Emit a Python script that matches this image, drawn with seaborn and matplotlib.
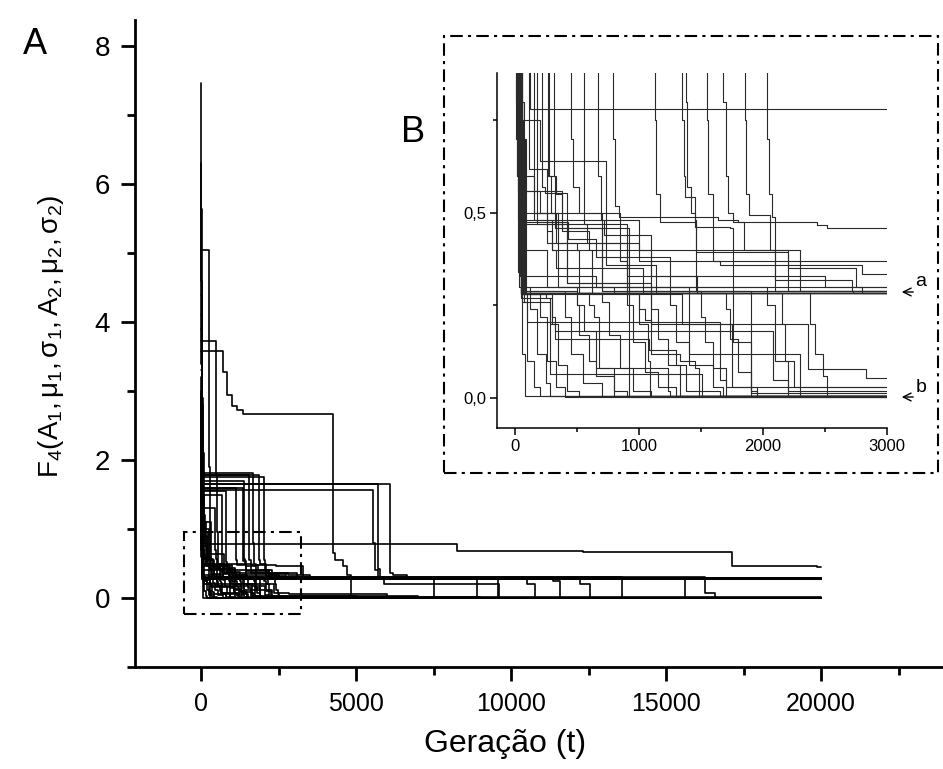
import numpy as np
import pandas as pd
import matplotlib
matplotlib.use("Agg")
import matplotlib.pyplot as plt
import matplotlib.patches as mpatches
from matplotlib.ticker import FixedLocator
import seaborn as sns

# ---------------- data: best-fitness step curves of each run ----------------
T_END = 20000
r01_t = [0, 12, 40, 90, 180, 420, 1100];            r01_f = [7.46, 4.6, 2.1, 0.9, 0.47, 0.31, 0.283]
r02_t = [0, 15, 45, 110, 260, 700, 1900];           r02_f = [6.3, 3.4, 1.5, 0.62, 0.42, 0.29, 0.006]
r03_t = [0, 18, 60, 150, 350, 800];                 r03_f = [5.64, 2.9, 1.1, 0.50, 0.30, 0.283]
r04_t = [0, 260, 275, 320, 700, 1500];              r04_f = [5.04, 1.9, 0.60, 0.46, 0.29, 0.283]
r05_t = [0, 480, 500, 560, 900, 1400, 2300];        r05_f = [3.72, 1.80, 0.95, 0.47, 0.30, 0.12, 0.005]
r06_t = [0, 700, 840, 1000, 1150, 1350, 4260, 4330, 4580, 4700, 4850]
r06_f = [3.58, 3.28, 2.95, 2.78, 2.72, 2.67, 0.65, 0.55, 0.46, 0.33, 0.005]
r07_t = [0, 30, 6100, 6180, 6640, 6800];            r07_f = [4.4, 1.65, 0.36, 0.33, 0.29, 0.283]
r08_t = [0, 40, 5700, 5760, 5900, 7500];            r08_f = [3.9, 1.65, 0.42, 0.30, 0.29, 0.005]
r09_t = [0, 60, 5550, 5600, 5700, 5900, 9600];      r09_f = [2.5, 1.57, 0.80, 0.40, 0.30, 0.20, 0.005]
r10_t = [0, 50, 1675, 1700, 1720, 1760, 2433, 2513, 3300, 17200]
r10_f = [2.8, 1.81, 0.80, 0.60, 0.50, 0.476, 0.467, 0.459, 0.29, 0.28]
r11_t = [0, 45, 1546, 1560, 1600, 1640, 1800, 1850, 2100, 15610]
r11_f = [3.3, 1.79, 0.75, 0.55, 0.49, 0.481, 0.476, 0.40, 0.29, 0.005]
r12_t = [0, 35, 1855, 1865, 1890, 2030, 2060, 2200, 2750, 13580]
r12_f = [2.9, 1.78, 0.75, 0.55, 0.495, 0.495, 0.40, 0.35, 0.30, 0.005]
r13_t = [0, 30, 2030, 2045, 2070, 2100, 2720, 12230, 12550]
r13_f = [2.4, 1.75, 0.70, 0.55, 0.49, 0.32, 0.29, 0.20, 0.005]
r14_t = [0, 40, 1344, 1360, 1370, 1450, 1460, 2727, 11350, 11580]
r14_f = [2.2, 1.59, 0.75, 0.60, 0.544, 0.481, 0.29, 0.285, 0.25, 0.005]
r15_t = [0, 25, 121, 8260, 12320, 17130, 19870];    r15_f = [4.1, 1.2, 0.781, 0.68, 0.67, 0.46, 0.45]
r16_t = [0, 30, 1378, 1390, 1420, 1450, 1734, 1760, 1900]
r16_f = [2.6, 1.7, 0.80, 0.57, 0.50, 0.463, 0.459, 0.15, 0.013]
r17_t = [0, 30, 1129, 1140, 1170, 1440, 1460, 1800, 2200, 10500, 10770]
r17_f = [2.3, 1.6, 0.75, 0.55, 0.476, 0.476, 0.395, 0.395, 0.29, 0.20, 0.005]
r18_t = [0, 40, 793, 810, 840, 1600, 1650, 2800, 3500, 9580]
r18_f = [2.1, 1.55, 0.70, 0.52, 0.49, 0.37, 0.36, 0.335, 0.29, 0.005]
r19_t = [0, 35, 672, 690, 720, 1050, 1100, 1700, 1750, 5000]
r19_f = [2.0, 1.5, 0.60, 0.48, 0.44, 0.44, 0.20, 0.20, 0.031, 0.005]
r20_t = [0, 25, 449, 470, 520, 700, 1000, 3100, 8900]
r20_f = [1.9, 1.3, 0.70, 0.57, 0.50, 0.42, 0.37, 0.29, 0.005]
r21_t = [0, 20, 315, 330, 380, 600, 620, 1300, 1350, 2330, 2360, 2800, 2830, 6000]
r21_f = [1.7, 1.1, 0.60, 0.55, 0.45, 0.40, 0.28, 0.28, 0.20, 0.20, 0.079, 0.079, 0.054, 0.005]
r22_t = [0, 22, 270, 290, 330, 500, 520];           r22_f = [1.6, 1.0, 0.60, 0.50, 0.42, 0.40, 0.283]
r23_t = [0, 18, 215, 240, 400, 420, 900, 920];      r23_f = [1.5, 0.95, 0.57, 0.553, 0.553, 0.31, 0.31, 0.006]
r24_t = [0, 15, 60, 200, 713, 730, 1000, 1100, 2500, 16260, 16580]
r24_f = [2.0, 1.2, 0.75, 0.639, 0.639, 0.48, 0.40, 0.33, 0.30, 0.08, 0.005]
r25_t = [0, 10, 30, 50, 60, 80];                    r25_f = [3.0, 1.2, 0.40, 0.28, 0.12, 0.005]
r26_t = [0, 12, 40, 60, 100, 150, 200];             r26_f = [2.5, 1.0, 0.35, 0.26, 0.10, 0.03, 0.005]
r27_t = [0, 15, 50, 120, 180, 250, 280];            r27_f = [2.2, 0.9, 0.30, 0.24, 0.12, 0.04, 0.005]
r28_t = [0, 20, 60, 200, 260, 330, 400];            r28_f = [2.0, 0.8, 0.28, 0.22, 0.10, 0.03, 0.004]
r29_t = [0, 10, 45, 300, 350, 420, 520];            r29_f = [1.9, 0.7, 0.27, 0.20, 0.09, 0.02, 0.005]
r30_t = [0, 14, 55, 100, 1600, 1650, 1700];         r30_f = [2.3, 0.8, 0.28, 0.206, 0.206, 0.05, 0.005]
r31_t = [0, 16, 70, 280, 1490, 1510];               r31_f = [1.8, 0.6, 0.26, 0.065, 0.065, 0.006]
r32_t = [0, 20, 80, 400, 450, 550, 700];            r32_f = [1.7, 0.7, 0.29, 0.22, 0.12, 0.04, 0.005]
r33_t = [0, 12, 60, 500, 560, 650, 800, 900];       r33_f = [2.4, 0.9, 0.29, 0.25, 0.18, 0.08, 0.02, 0.004]
r34_t = [0, 18, 65, 700, 760, 850, 950, 1100];      r34_f = [2.1, 0.75, 0.28, 0.26, 0.17, 0.08, 0.02, 0.005]
r35_t = [0, 20, 50, 900, 950, 1050, 1150, 1300];    r35_f = [1.6, 0.6, 0.285, 0.25, 0.15, 0.07, 0.03, 0.006]
r36_t = [0, 25, 70, 1100, 1150, 1230, 1380, 1650];  r36_f = [1.9, 0.7, 0.283, 0.24, 0.16, 0.09, 0.02, 0.005]
r37_t = [0, 22, 75, 1250, 1300, 1400, 1600, 1680];  r37_f = [2.2, 0.8, 0.283, 0.25, 0.15, 0.09, 0.03, 0.004]
r38_t = [0, 28, 90, 1500, 1530, 1600, 1700, 1950];  r38_f = [1.8, 0.7, 0.285, 0.22, 0.15, 0.08, 0.03, 0.005]
r39_t = [0, 14, 60, 1700, 1730, 1800, 1900, 1950];  r39_f = [2.6, 0.9, 0.284, 0.24, 0.16, 0.07, 0.02, 0.006]
r40_t = [0, 16, 55, 2150, 2180, 2250, 2400, 7000];  r40_f = [2.4, 0.8, 0.283, 0.20, 0.10, 0.031, 0.031, 0.005]
r41_t = [0, 24, 80, 1000, 1050, 1100, 1300, 1330];  r41_f = [1.7, 0.6, 0.285, 0.24, 0.21, 0.12, 0.09, 0.006]
r42_t = [0, 10, 35, 2000, 2030, 2100, 2200, 9000];  r42_f = [3.2, 1.3, 0.30, 0.30, 0.25, 0.10, 0.02, 0.005]
r43_t = [0, 13, 40, 600, 650, 2700, 2800];          r43_f = [2.7, 1.0, 0.33, 0.33, 0.30, 0.30, 0.283]
r44_t = [0, 8, 25, 250, 300, 330, 1000, 1030];      r44_f = [2.0, 0.9, 0.48, 0.48, 0.40, 0.35, 0.35, 0.283]
r45_t = [0, 10, 30, 400, 430, 600, 650, 1200, 1250]
r45_f = [1.8, 0.8, 0.476, 0.476, 0.43, 0.43, 0.38, 0.38, 0.284]
r46_t = [0, 12, 35, 550, 580, 880, 900, 1470];      r46_f = [2.2, 0.9, 0.47, 0.47, 0.42, 0.42, 0.33, 0.285]
r47_t = [0, 9, 28, 150, 200, 260, 300, 2250, 2300]
r47_f = [1.6, 0.9, 0.56, 0.56, 0.50, 0.45, 0.40, 0.40, 0.29]
r48_t = [0, 14, 40, 350, 380, 880, 920];            r48_f = [1.7, 0.8, 0.56, 0.56, 0.46, 0.46, 0.29]
r49_t = [0, 11, 33, 120, 150, 700, 730, 1110, 1140]
r49_f = [2.4, 1.0, 0.60, 0.60, 0.48, 0.48, 0.36, 0.36, 0.283]
r50_t = [0, 13, 38, 230, 260, 500, 520, 600, 650, 800]
r50_f = [1.9, 0.8, 0.40, 0.40, 0.30, 0.25, 0.17, 0.10, 0.06, 0.006]
r51_t = [0, 17, 45, 300, 320, 1050, 1080, 1300, 1330, 1450, 1480]
r51_f = [2.0, 0.8, 0.28, 0.22, 0.16, 0.16, 0.13, 0.12, 0.10, 0.08, 0.006]
r52_t = [0, 19, 50, 600, 640, 680, 1200, 1230, 1250]
r52_f = [1.8, 0.7, 0.283, 0.25, 0.22, 0.08, 0.08, 0.02, 0.005]
r53_t = [0, 21, 70, 250, 280, 320, 2050, 2080, 2200]
r53_f = [1.5, 0.6, 0.28, 0.27, 0.20, 0.18, 0.18, 0.05, 0.005]
r54_t = [0, 9, 26, 50, 2350, 2380, 2420, 2480, 2520]
r54_f = [2.9, 1.0, 0.34, 0.283, 0.283, 0.20, 0.12, 0.06, 0.005]
r55_t = [0, 15, 42, 820, 850, 900, 1000, 1070, 1090]
r55_f = [2.1, 0.8, 0.50, 0.50, 0.37, 0.28, 0.20, 0.10, 0.005]

runs = [
    (r01_t, r01_f), (r02_t, r02_f), (r03_t, r03_f), (r04_t, r04_f), (r05_t, r05_f),
    (r06_t, r06_f), (r07_t, r07_f), (r08_t, r08_f), (r09_t, r09_f), (r10_t, r10_f),
    (r11_t, r11_f), (r12_t, r12_f), (r13_t, r13_f), (r14_t, r14_f), (r15_t, r15_f),
    (r16_t, r16_f), (r17_t, r17_f), (r18_t, r18_f), (r19_t, r19_f), (r20_t, r20_f),
    (r21_t, r21_f), (r22_t, r22_f), (r23_t, r23_f), (r24_t, r24_f), (r25_t, r25_f),
    (r26_t, r26_f), (r27_t, r27_f), (r28_t, r28_f), (r29_t, r29_f), (r30_t, r30_f),
    (r31_t, r31_f), (r32_t, r32_f), (r33_t, r33_f), (r34_t, r34_f), (r35_t, r35_f),
    (r36_t, r36_f), (r37_t, r37_f), (r38_t, r38_f), (r39_t, r39_f), (r40_t, r40_f),
    (r41_t, r41_f), (r42_t, r42_f), (r43_t, r43_f), (r44_t, r44_f), (r45_t, r45_f),
    (r46_t, r46_f), (r47_t, r47_f), (r48_t, r48_f), (r49_t, r49_f), (r50_t, r50_f),
    (r51_t, r51_f), (r52_t, r52_f), (r53_t, r53_f), (r54_t, r54_f), (r55_t, r55_f),
]

main_xticks = [0, 5000, 10000, 15000, 20000]
main_xlabels = ["0", "5000", "10000", "15000", "20000"]
main_yticks = [0, 2, 4, 6, 8]
main_ylabels = ["0", "2", "4", "6", "8"]
inset_xticks = [0, 1000, 2000, 3000]
inset_xlabels = ["0", "1000", "2000", "3000"]
inset_yticks = [0.0, 0.5]
inset_ylabels = ["0,0", "0,5"]

rows = []
for i, (t, f) in enumerate(runs):
    tt = list(t) + [T_END]
    ff = list(f) + [f[-1]]
    for a, b in zip(tt, ff):
        rows.append((i, a, b))
df = pd.DataFrame(rows, columns=["run", "t", "f"])

# ---------------- styling ----------------
sns.set_style("ticks")
plt.rcParams["font.family"] = ["Liberation Sans", "DejaVu Sans"]
plt.rcParams["mathtext.fontset"] = "custom"
plt.rcParams["mathtext.rm"] = "Liberation Sans"
plt.rcParams["mathtext.it"] = "Liberation Sans:italic"
for key in ["text.color", "axes.labelcolor", "xtick.color", "ytick.color", "axes.edgecolor"]:
    plt.rcParams[key] = "black"

W, H = 943, 769
fig = plt.figure(figsize=(W / 100, H / 100), dpi=100)

def fx(px):
    return px / W

def fy(py):
    return 1 - py / H

DASHDOT = (0, (6, 2.5, 1.5, 2.5))

# main axes
ax = fig.add_axes([fx(135), fy(667), fx(943) - fx(135), fy(20) - fy(667)])
sns.lineplot(data=df, x="t", y="f", units="run", estimator=None, drawstyle="steps-post",
             color="black", lw=1.2, legend=False, ax=ax, sort=False)
ax.set_xlim(-2129, 23935)
ax.set_ylim(-1, 8.38)
for s in ["top", "right"]:
    ax.spines[s].set_visible(False)
for s in ["left", "bottom"]:
    ax.spines[s].set_linewidth(2.0)
ax.xaxis.set_major_locator(FixedLocator(main_xticks))
ax.set_xticklabels(main_xlabels, fontsize=18)
ax.xaxis.set_minor_locator(FixedLocator([2500, 7500, 12500, 17500, 22500]))
ax.yaxis.set_major_locator(FixedLocator(main_yticks))
ax.set_yticklabels(main_ylabels, fontsize=20)
ax.yaxis.set_minor_locator(FixedLocator([-1, 1, 3, 5, 7]))
ax.tick_params(which="major", direction="out", length=10, width=2, pad=8, colors="black")
ax.tick_params(which="minor", direction="out", length=6, width=2, colors="black")
ax.set_xlabel("Geração (t)", fontsize=23)
ax.xaxis.set_label_coords((505 - 135) / 808, (667 - 729) / 647)
ax.set_ylabel(r"$\mathrm{F_4(A_1,\mu_1,\sigma_1,A_2,\mu_2,\sigma_2)}$", fontsize=20)
ax.yaxis.set_label_coords((66 - 135) / 808, (667 - 336) / 647)

# small dash-dot zoom box in main axes
ax.add_patch(mpatches.Rectangle((-550, -0.23), 3776, 1.19, fill=False, ec="black", lw=1.5,
                                ls=DASHDOT, zorder=5))

# inset frame box (figure coords)
fig.patches.append(mpatches.Rectangle((fx(444), fy(473)), fx(938) - fx(444), fy(36) - fy(473),
                                      transform=fig.transFigure, fill=False, ec="black", lw=1.5,
                                      ls=DASHDOT))

# inset axes
axi = fig.add_axes([fx(497), fy(428), fx(887) - fx(497), fy(73) - fy(428)])
sns.lineplot(data=df, x="t", y="f", units="run", estimator=None, drawstyle="steps-post",
             color="#2a2a2a", lw=0.8, legend=False, ax=axi, sort=False)
axi.set_xlim(-145, 3000)
axi.set_ylim(-0.081, 0.878)
axi.patch.set_alpha(0)
for s in ["top", "right"]:
    axi.spines[s].set_visible(False)
for s in ["left", "bottom"]:
    axi.spines[s].set_linewidth(1.1)
axi.xaxis.set_major_locator(FixedLocator(inset_xticks))
axi.set_xticklabels(inset_xlabels, fontsize=12)
axi.xaxis.set_minor_locator(FixedLocator([500, 1500, 2500]))
axi.yaxis.set_major_locator(FixedLocator(inset_yticks))
axi.set_yticklabels(inset_ylabels, fontsize=12)
axi.yaxis.set_minor_locator(FixedLocator([0.25, 0.75]))
axi.tick_params(which="major", direction="out", length=5, width=1.1, pad=3)
axi.tick_params(which="minor", direction="out", length=3, width=1.1)
axi.set_xlabel("")
axi.set_ylabel("")

# panel letters
fig.text(fx(35), fy(45), "A", fontsize=26, ha="center", va="center")
fig.text(fx(413), fy(132), "B", fontsize=26, ha="center", va="center")

# arrows a and b
for lab, py in [("a", 292), ("b", 397)]:
    fig.patches.append(mpatches.FancyArrowPatch((fx(916), fy(py)), (fx(899), fy(py)),
                                                transform=fig.transFigure, arrowstyle="->",
                                                mutation_scale=14, lw=1.0, color="black"))
    fig.text(fx(921), fy(py - 10), lab, fontsize=14, ha="center", va="center")

fig.savefig("out.png", dpi=100)
